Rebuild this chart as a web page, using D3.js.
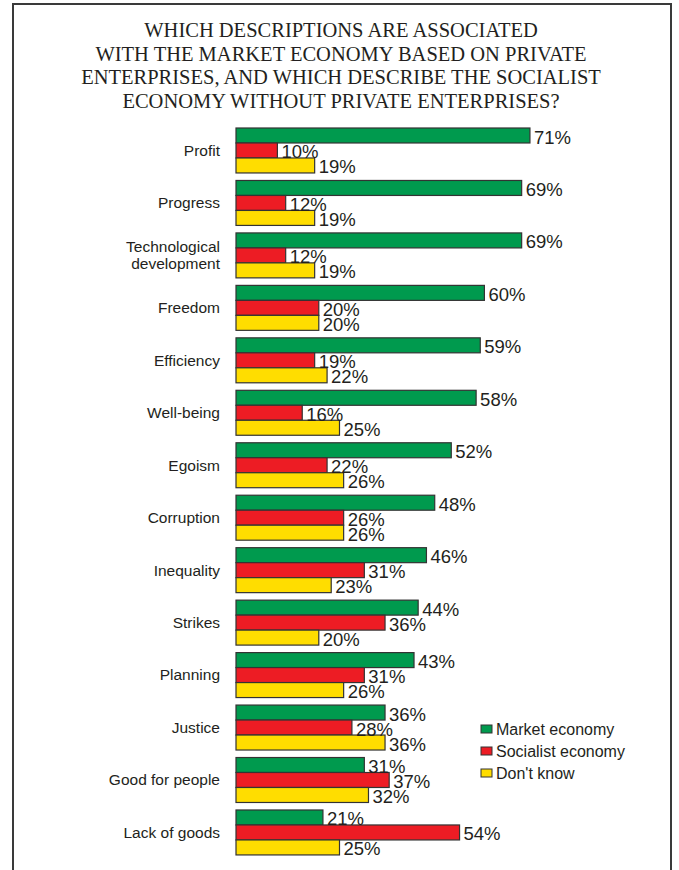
<!DOCTYPE html>
<html>
<head>
<meta charset="utf-8">
<script src="https://cdn.jsdelivr.net/npm/d3@7"></script>
<style>
  body { margin: 0; background: #fff; }
  svg { display: block; }
  .title { font-family: "Liberation Serif", "Times New Roman", serif; font-size: 20.5px; fill: #231f20; }
  .cat { font-family: "Liberation Sans", Arial, sans-serif; font-size: 15.5px; fill: #231f20; }
  .val { font-family: "Liberation Sans", Arial, sans-serif; font-size: 18.5px; fill: #231f20; }
  .leg { font-family: "Liberation Sans", Arial, sans-serif; font-size: 16px; fill: #231f20; }
</style>
</head>
<body>
<svg id="chart" width="679" height="870"></svg>
<script>
// data
var categories = ["Profit", "Progress", "Technological development", "Freedom", "Efficiency",
    "Well-being", "Egoism", "Corruption", "Inequality", "Strikes", "Planning", "Justice",
    "Good for people", "Lack of goods"];
var seriesNames = ["Market economy", "Socialist economy", "Don't know"];
var market    = [71, 69, 69, 60, 59, 58, 52, 48, 46, 44, 43, 36, 31, 21];
var socialist = [10, 12, 12, 20, 19, 16, 22, 26, 31, 36, 31, 28, 37, 54];
var dontKnow  = [19, 19, 19, 20, 22, 25, 26, 26, 23, 20, 26, 36, 32, 25];
var titleLines = ["WHICH DESCRIPTIONS ARE ASSOCIATED",
    "WITH THE MARKET ECONOMY BASED ON PRIVATE",
    "ENTERPRISES, AND WHICH DESCRIBE THE SOCIALIST",
    "ECONOMY WITHOUT PRIVATE ENTERPRISES?"];
var colors = ["#009a4e", "#ed1c24", "#ffdd00"];

var svg = d3.select("#chart");

// frame
svg.append("path")
    .attr("d", "M13,872V4H671V872")
    .attr("fill", "none")
    .attr("stroke", "#3a3a3a")
    .attr("stroke-width", 2);

svg.append("g").selectAll("text")
    .data(titleLines)
    .enter().append("text")
    .attr("class", "title")
    .attr("x", 341)
    .attr("y", function (d, i) { return 37 + i * 23.5; })
    .attr("text-anchor", "middle")
    .text(function (d) { return d; });

var x = d3.scaleLinear().domain([0, 100]).range([236, 650]);

var y = d3.scaleBand()
    .domain(categories)
    .range([124.25, 124.25 + 14 * 52.46])
    .paddingInner(0.143)
    .paddingOuter(0.0715);

var ySub = d3.scaleBand()
    .domain(d3.range(3))
    .range([0, y.bandwidth()]);

var rows = categories.map(function (c, i) {
    return { name: c, values: [market[i], socialist[i], dontKnow[i]] };
});

var group = svg.append("g").selectAll("g")
    .data(rows)
    .enter().append("g")
    .attr("transform", function (d) { return "translate(0," + y(d.name) + ")"; });

group.selectAll("rect")
    .data(function (d) { return d.values; })
    .enter().append("rect")
    .attr("x", x(0))
    .attr("y", function (d, i) { return ySub(i); })
    .attr("width", function (d) { return x(d) - x(0); })
    .attr("height", ySub.bandwidth())
    .attr("fill", function (d, i) { return colors[i]; })
    .attr("stroke", "#333")
    .attr("stroke-width", 1.2);

// value labels overlap the next bar a little, as in the original
group.selectAll("text.val")
    .data(function (d) { return d.values; })
    .enter().append("text")
    .attr("class", "val")
    .attr("x", function (d) { return x(d) + 4; })
    .attr("y", function (d, i) { return ySub(i) + ySub.bandwidth() + 0.5; })
    .text(function (d) { return d + "%"; });

// category labels, long ones broken in two lines
group.append("text")
    .attr("class", "cat")
    .attr("x", 220)
    .attr("y", y.bandwidth() / 2)
    .attr("text-anchor", "end")
    .each(function (d) {
        var lines = d.name === "Technological development" ? ["Technological", "development"] : [d.name];
        var t = d3.select(this);
        lines.forEach(function (l, j) {
            t.append("tspan")
                .attr("x", 220)
                .attr("dy", j === 0 ? (0.35 - (lines.length - 1) * 0.55) + "em" : "1.1em")
                .text(l);
        });
    });

// legend
var legend = svg.append("g").selectAll("g")
    .data(seriesNames)
    .enter().append("g")
    .attr("transform", function (d, i) { return "translate(481," + (729 + i * 22) + ")"; });

legend.append("rect")
    .attr("x", 0)
    .attr("y", -4)
    .attr("width", 11)
    .attr("height", 8)
    .attr("fill", function (d, i) { return colors[i]; })
    .attr("stroke", "#333")
    .attr("stroke-width", 1);

legend.append("text")
    .attr("class", "leg")
    .attr("x", 15)
    .attr("y", 0)
    .attr("dy", "0.35em")
    .text(function (d) { return d; });
</script>
</body>
</html>
